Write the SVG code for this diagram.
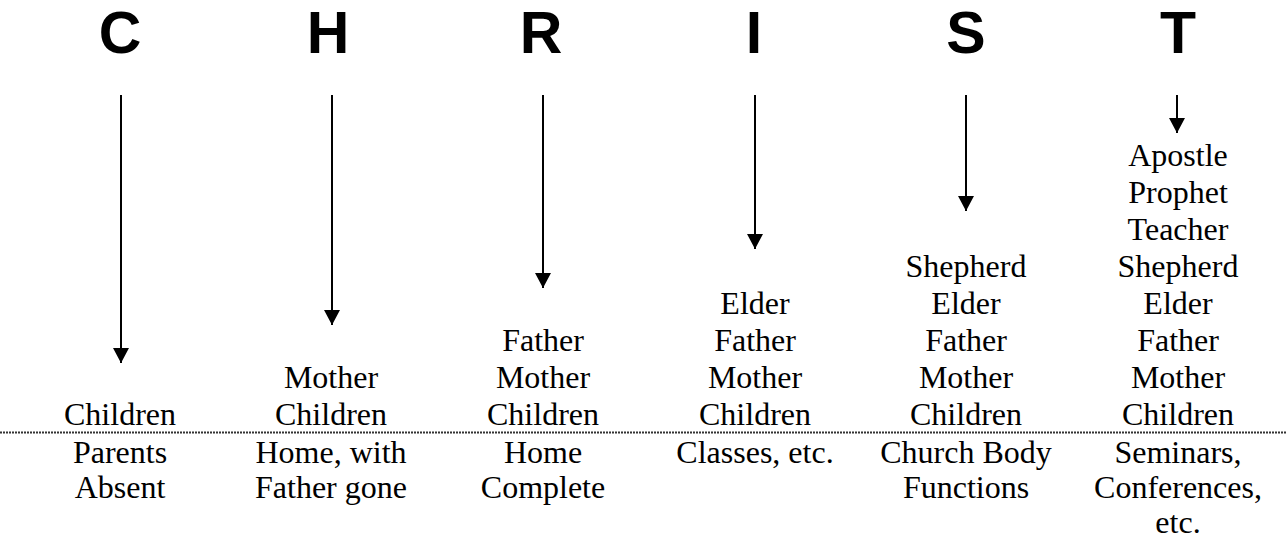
<svg xmlns="http://www.w3.org/2000/svg" width="1286" height="541" viewBox="0 0 1286 541">
<style>
.letter{font-family:"Liberation Sans",Arial,sans-serif;font-weight:bold;font-size:59px;text-anchor:middle;fill:#000}
.t{font-family:"Liberation Serif","Times New Roman",serif;font-size:32px;text-anchor:middle;fill:#000}
.arrow{stroke:#000;stroke-width:2;fill:none;marker-end:url(#ah)}
</style>
<defs>
<marker id="ah" markerUnits="userSpaceOnUse" markerWidth="16" markerHeight="16" refX="15" refY="8" orient="auto" viewBox="0 0 16 16">
<path d="M0,0 L15,8 L0,16 Z" fill="#000"/>
</marker>
</defs>
<rect width="1286" height="541" fill="#fff"/>
<line x1="0" y1="432.5" x2="1286" y2="432.5" stroke="#333" stroke-width="2" stroke-dasharray="2 1"/>
<g id="connectors">
<line class="arrow" x1="121" y1="95" x2="121" y2="363"/>
<line class="arrow" x1="332" y1="95" x2="332" y2="325"/>
<line class="arrow" x1="543" y1="95" x2="543" y2="288"/>
<line class="arrow" x1="755" y1="95" x2="755" y2="249"/>
<line class="arrow" x1="966" y1="95" x2="966" y2="211"/>
<line class="arrow" x1="1177" y1="95" x2="1177" y2="133"/>
</g>
<g id="col-C">
<text class="letter" x="120" y="53">C</text>
<text class="t" x="120" y="425">Children</text>
<text class="t" x="120" y="463">Parents</text>
<text class="t" x="120" y="498">Absent</text>
</g>
<g id="col-H">
<text class="letter" x="328" y="53">H</text>
<text class="t" x="331" y="388">Mother</text>
<text class="t" x="331" y="425">Children</text>
<text class="t" x="331" y="463">Home, with</text>
<text class="t" x="331" y="498">Father gone</text>
</g>
<g id="col-R">
<text class="letter" x="541" y="53">R</text>
<text class="t" x="543" y="351">Father</text>
<text class="t" x="543" y="388">Mother</text>
<text class="t" x="543" y="425">Children</text>
<text class="t" x="543" y="463">Home</text>
<text class="t" x="543" y="498">Complete</text>
</g>
<g id="col-I">
<text class="letter" x="754" y="53">I</text>
<text class="t" x="755" y="314">Elder</text>
<text class="t" x="755" y="351">Father</text>
<text class="t" x="755" y="388">Mother</text>
<text class="t" x="755" y="425">Children</text>
<text class="t" x="755" y="463">Classes, etc.</text>
</g>
<g id="col-S">
<text class="letter" x="966" y="53">S</text>
<text class="t" x="966" y="277">Shepherd</text>
<text class="t" x="966" y="314">Elder</text>
<text class="t" x="966" y="351">Father</text>
<text class="t" x="966" y="388">Mother</text>
<text class="t" x="966" y="425">Children</text>
<text class="t" x="966" y="463">Church Body</text>
<text class="t" x="966" y="498">Functions</text>
</g>
<g id="col-T">
<text class="letter" x="1178" y="53">T</text>
<text class="t" x="1178" y="166">Apostle</text>
<text class="t" x="1178" y="203">Prophet</text>
<text class="t" x="1178" y="240">Teacher</text>
<text class="t" x="1178" y="277">Shepherd</text>
<text class="t" x="1178" y="314">Elder</text>
<text class="t" x="1178" y="351">Father</text>
<text class="t" x="1178" y="388">Mother</text>
<text class="t" x="1178" y="425">Children</text>
<text class="t" x="1178" y="463">Seminars,</text>
<text class="t" x="1178" y="498">Conferences,</text>
<text class="t" x="1178" y="533">etc.</text>
</g>
</svg>
